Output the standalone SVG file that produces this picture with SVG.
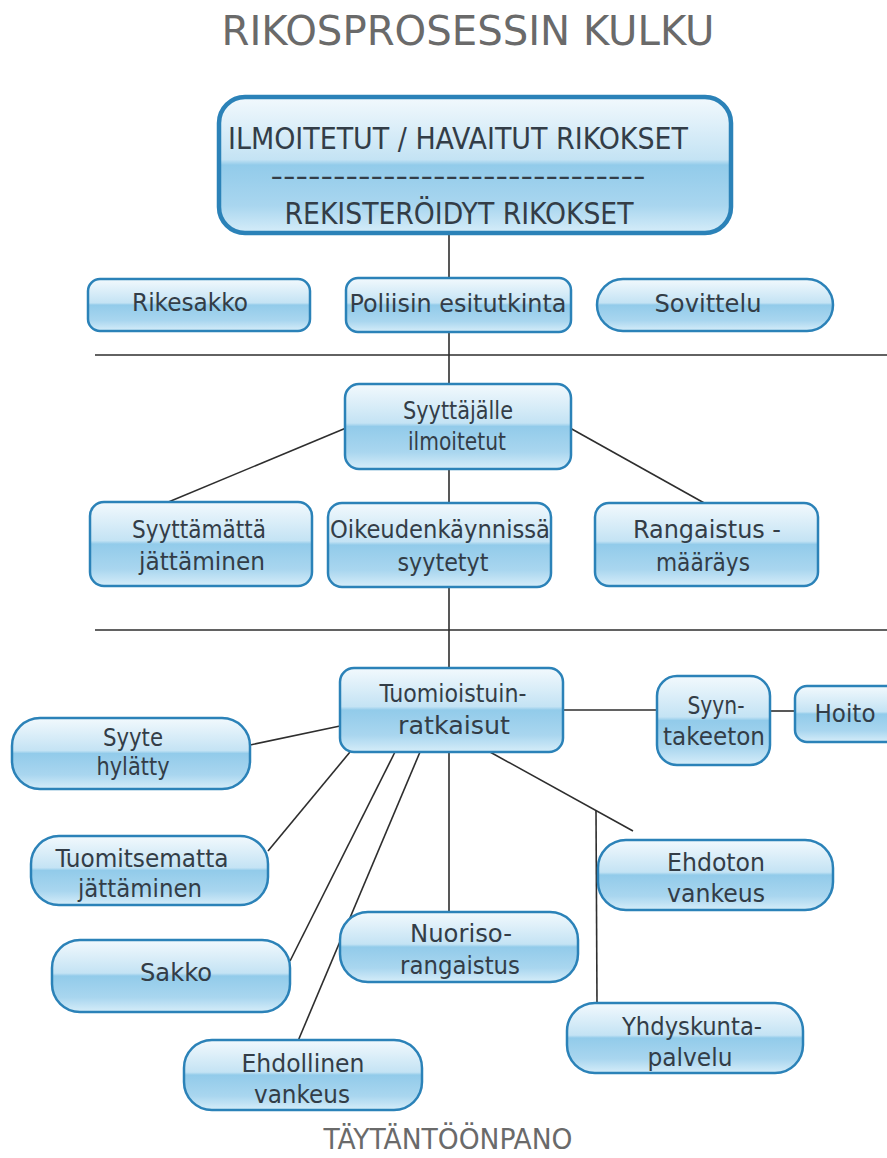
<svg xmlns="http://www.w3.org/2000/svg" width="887" height="1158" viewBox="0 0 887 1158">
<defs>
<linearGradient id="g" x1="0" y1="0" x2="0" y2="1">
<stop offset="0" stop-color="#f2f9fd"/>
<stop offset="0.46" stop-color="#c4e3f4"/>
<stop offset="0.5" stop-color="#92cbea"/>
<stop offset="0.8" stop-color="#a9d6ef"/>
<stop offset="1" stop-color="#d6edf9"/>
</linearGradient>
<style>
.n{fill:url(#g);stroke:#2b82b8;stroke-width:2.5}
.t{font-family:"DejaVu Sans Condensed","Liberation Sans Narrow","Liberation Sans",sans-serif;font-size:25px;fill:#333d47;text-anchor:middle}
.c{stroke:#2e2e2e;stroke-width:1.6;fill:none}
.h{font-family:"DejaVu Sans Condensed","Liberation Sans Narrow","Liberation Sans",sans-serif;fill:#6a6a6a;text-anchor:middle}
.b{fill:#333d47}
</style>
</defs>
<rect width="887" height="1158" fill="#fff"/>
<text class="h" x="468" y="45" font-size="41" textLength="493" lengthAdjust="spacingAndGlyphs">RIKOSPROSESSIN KULKU</text>

<g id="connectors">
<line class="c" x1="449" y1="233" x2="449" y2="279"/>
<line class="c" x1="449" y1="331" x2="449" y2="385"/>
<line class="c" x1="95" y1="355" x2="887" y2="355"/>
<line class="c" x1="95" y1="630" x2="887" y2="630"/>
<line class="c" x1="346" y1="428" x2="166" y2="503"/>
<line class="c" x1="570" y1="428" x2="706" y2="504"/>
<line class="c" x1="449" y1="469" x2="449" y2="504"/>
<line class="c" x1="449" y1="587" x2="449" y2="669"/>
<line class="c" x1="563" y1="710" x2="658" y2="710"/>
<line class="c" x1="770" y1="711" x2="796" y2="711"/>
<line class="c" x1="250" y1="745" x2="340" y2="726"/>
<line class="c" x1="350" y1="752" x2="268" y2="851"/>
<line class="c" x1="395" y1="752" x2="290" y2="961"/>
<line class="c" x1="420" y1="752" x2="298" y2="1041"/>
<line class="c" x1="449" y1="752" x2="449" y2="913"/>
<line class="c" x1="490" y1="752" x2="633" y2="831"/>
<line class="c" x1="596" y1="810" x2="597" y2="1004"/>
</g>

<g id="n-top">
<rect x="219" y="97" width="512" height="136" rx="26" fill="url(#g)" stroke="#2b82b8" stroke-width="4.5"/>
<text class="h b" x="458" y="149" font-size="30" textLength="460" lengthAdjust="spacingAndGlyphs">ILMOITETUT / HAVAITUT RIKOKSET</text>
<text class="h b" x="458" y="186" font-size="28" textLength="375" lengthAdjust="spacingAndGlyphs">------------------------------</text>
<text class="h b" x="459" y="224" font-size="30" textLength="349" lengthAdjust="spacingAndGlyphs">REKISTERÖIDYT RIKOKSET</text>
</g>

<g id="n-rikesakko"><rect class="n" x="88" y="279" width="222" height="52" rx="12"/>
<text class="t" x="190" y="311" textLength="116" lengthAdjust="spacingAndGlyphs">Rikesakko</text></g>
<g id="n-poliisi"><rect class="n" x="346" y="278" width="225" height="54" rx="12"/>
<text class="t" x="458" y="312" textLength="217" lengthAdjust="spacingAndGlyphs">Poliisin esitutkinta</text></g>
<g id="n-sovittelu"><rect class="n" x="597" y="279" width="236" height="52" rx="26"/>
<text class="t" x="708" y="312" textLength="107" lengthAdjust="spacingAndGlyphs">Sovittelu</text></g>

<g id="n-syyttajalle"><rect class="n" x="345" y="384" width="226" height="85" rx="14"/>
<text class="t" x="458" y="419" textLength="110" lengthAdjust="spacingAndGlyphs">Syyttäjälle</text>
<text class="t" x="457" y="450" textLength="98" lengthAdjust="spacingAndGlyphs">ilmoitetut</text></g>

<g id="n-syyttamatta"><rect class="n" x="90" y="502" width="222" height="84" rx="14"/>
<text class="t" x="199" y="538" textLength="134" lengthAdjust="spacingAndGlyphs">Syyttämättä</text>
<text class="t" x="202" y="570" textLength="126" lengthAdjust="spacingAndGlyphs">jättäminen</text></g>
<g id="n-oikeus"><rect class="n" x="328" y="503" width="223" height="84" rx="14"/>
<text class="t" x="440" y="538" textLength="220" lengthAdjust="spacingAndGlyphs">Oikeudenkäynnissä</text>
<text class="t" x="443" y="571" textLength="91" lengthAdjust="spacingAndGlyphs">syytetyt</text></g>
<g id="n-rangaistusmaarays"><rect class="n" x="595" y="503" width="223" height="83" rx="14"/>
<text class="t" x="707" y="538" textLength="148" lengthAdjust="spacingAndGlyphs">Rangaistus -</text>
<text class="t" x="703" y="571" textLength="94" lengthAdjust="spacingAndGlyphs">määräys</text></g>

<g id="n-tuomioistuin"><rect class="n" x="340" y="668" width="223" height="84" rx="14"/>
<text class="t" x="453" y="702" textLength="147" lengthAdjust="spacingAndGlyphs">Tuomioistuin-</text>
<text class="t" x="454" y="734" textLength="112" lengthAdjust="spacingAndGlyphs">ratkaisut</text></g>
<g id="n-syyntakeeton"><rect class="n" x="657" y="676" width="113" height="89" rx="20"/>
<text class="t" x="716" y="714" textLength="57" lengthAdjust="spacingAndGlyphs">Syyn-</text>
<text class="t" x="714" y="745" textLength="102" lengthAdjust="spacingAndGlyphs">takeeton</text></g>
<g id="n-hoito"><rect class="n" x="795" y="686" width="110" height="56" rx="12"/>
<text class="t" x="845" y="722" textLength="61" lengthAdjust="spacingAndGlyphs">Hoito</text></g>

<g id="n-syyte"><rect class="n" x="12" y="718" width="238" height="71" rx="28"/>
<text class="t" x="133" y="746" textLength="60" lengthAdjust="spacingAndGlyphs">Syyte</text>
<text class="t" x="133" y="775" textLength="73" lengthAdjust="spacingAndGlyphs">hylätty</text></g>
<g id="n-tuomitsematta"><rect class="n" x="31" y="836" width="237" height="69" rx="28"/>
<text class="t" x="142" y="867" textLength="173" lengthAdjust="spacingAndGlyphs">Tuomitsematta</text>
<text class="t" x="140" y="897" textLength="124" lengthAdjust="spacingAndGlyphs">jättäminen</text></g>
<g id="n-sakko"><rect class="n" x="52" y="940" width="238" height="72" rx="28"/>
<text class="t" x="176" y="981" textLength="72" lengthAdjust="spacingAndGlyphs">Sakko</text></g>
<g id="n-ehdollinen"><rect class="n" x="184" y="1040" width="238" height="70" rx="28"/>
<text class="t" x="303" y="1072" textLength="123" lengthAdjust="spacingAndGlyphs">Ehdollinen</text>
<text class="t" x="302" y="1103" textLength="96" lengthAdjust="spacingAndGlyphs">vankeus</text></g>
<g id="n-nuoriso"><rect class="n" x="340" y="912" width="238" height="70" rx="28"/>
<text class="t" x="461" y="942" textLength="102" lengthAdjust="spacingAndGlyphs">Nuoriso-</text>
<text class="t" x="460" y="974" textLength="120" lengthAdjust="spacingAndGlyphs">rangaistus</text></g>
<g id="n-ehdoton"><rect class="n" x="598" y="840" width="235" height="70" rx="28"/>
<text class="t" x="716" y="871" textLength="98" lengthAdjust="spacingAndGlyphs">Ehdoton</text>
<text class="t" x="716" y="902" textLength="98" lengthAdjust="spacingAndGlyphs">vankeus</text></g>
<g id="n-yhdyskunta"><rect class="n" x="567" y="1003" width="236" height="70" rx="28"/>
<text class="t" x="692" y="1035" textLength="140" lengthAdjust="spacingAndGlyphs">Yhdyskunta-</text>
<text class="t" x="690" y="1066" textLength="85" lengthAdjust="spacingAndGlyphs">palvelu</text></g>

<text class="h" x="448" y="1149" font-size="28" textLength="249" lengthAdjust="spacingAndGlyphs">TÄYTÄNTÖÖNPANO</text>
</svg>
